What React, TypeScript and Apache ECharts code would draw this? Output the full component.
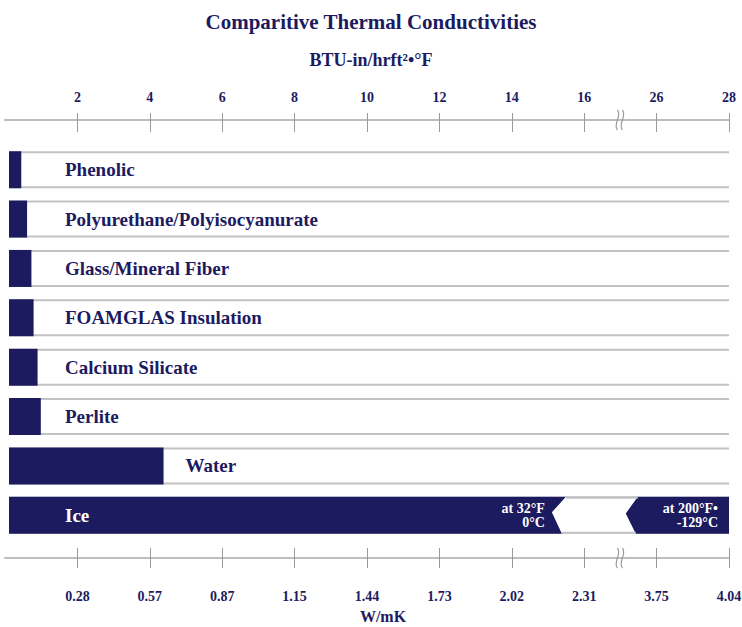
import React, { useEffect, useRef } from "react";
import * as echarts from "echarts";

// ---------- data ----------
const materials = [
  "Phenolic",
  "Polyurethane/Polyisocyanurate",
  "Glass/Mineral Fiber",
  "FOAMGLAS Insulation",
  "Calcium Silicate",
  "Perlite",
  "Water",
  "Ice",
];
// thermal conductivity, BTU-in/hr·ft²·°F
const conductivity = [0.45, 0.61, 0.73, 0.79, 0.9, 0.99, 4.38, 28];
const iceAt32F = 15.3;
const iceNotes = ["at 32°F\n0°C", "at 200°F•\n-129°C"];
const topTickLabels = ["2", "4", "6", "8", "10", "12", "14", "16", "26", "28"];
const bottomTickLabels = ["0.28", "0.57", "0.87", "1.15", "1.44", "1.73", "2.02", "2.31", "3.75", "4.04"];

// axis break: 16 .. 26 collapsed into one step
const BREAK_FROM = 16;
const BREAK_TO = 26;
const STEP = 2;
const toAxis = (v: number) =>
  v <= BREAK_FROM ? v : v >= BREAK_TO ? v - (BREAK_TO - BREAK_FROM - STEP) : BREAK_FROM + STEP / 2;
const tickValues = topTickLabels.map((_, i) => (i + 1) * STEP);
const AXIS_MAX = tickValues[tickValues.length - 1];

// ---------- style ----------
const NAVY = "#1c1b5f";
const ROW_LINE = "#c2c2c2";
const AXIS_LINE = "#bdbdbd";
const TICK = "#9a9a9a";
const FONT = '"Liberation Serif", "DejaVu Serif", serif';
const TOP_OFFSET = 25;
const BOTTOM_OFFSET = 18;

function renderRow(params: any, api: any) {
  const i = api.value(1);
  const v = api.value(0);
  const cs = params.coordSys;
  const [xEnd, yc] = api.coord([v, i]);
  const band = api.size([0, 1])[1];
  const h = band * 0.75;
  const top = yc - h / 2;
  const bot = yc + h / 2;
  const x0 = cs.x + 4;
  const xR = cs.x + cs.width;
  const broken = v > BREAK_FROM;
  const children: any[] = [
    { type: "line", shape: { x1: x0, y1: top + 1, x2: xR, y2: top + 1 }, style: { stroke: ROW_LINE, lineWidth: 2 } },
    { type: "line", shape: { x1: x0, y1: bot - 1, x2: xR, y2: bot - 1 }, style: { stroke: ROW_LINE, lineWidth: 2 } },
    { type: "rect", shape: { x: x0, y: top, width: xEnd - x0, height: h }, style: { fill: NAVY } },
  ];
  const labelX = broken ? x0 + 56 : Math.max(x0 + 56, xEnd + 22);
  children.push({
    type: "text",
    x: labelX,
    y: yc,
    style: {
      text: materials[i],
      fill: broken ? "#ffffff" : NAVY,
      fontFamily: FONT,
      fontWeight: "bold",
      fontSize: 19,
      align: "left",
      verticalAlign: "middle",
    },
  });
  if (broken) {
    const L = api.coord([iceAt32F, i])[0];
    const R = api.coord([BREAK_FROM + STEP * 0.74, i])[0];
    children.push({
      type: "polygon",
      shape: {
        points: [
          [L + 7, top],
          [R, top],
          [R - 12, top + h * 0.45],
          [R - 2, bot],
          [L + 3, bot],
          [L - 7, top + h * 0.42],
        ],
      },
      style: { fill: "#ffffff" },
    });
    children.push({ type: "line", shape: { x1: L + 7, y1: top + 1, x2: R, y2: top + 1 }, style: { stroke: ROW_LINE, lineWidth: 2 } });
    children.push({ type: "line", shape: { x1: L + 3, y1: bot - 1, x2: R - 2, y2: bot - 1 }, style: { stroke: ROW_LINE, lineWidth: 2 } });
    const noteStyle = {
      fill: "#ffffff",
      fontFamily: FONT,
      fontWeight: "bold",
      fontSize: 14,
      lineHeight: 14,
      align: "right",
      verticalAlign: "middle",
    };
    children.push({ type: "text", x: L - 14, y: yc, style: { ...noteStyle, text: iceNotes[0] } });
    children.push({ type: "text", x: xR - 11, y: yc, style: { ...noteStyle, text: iceNotes[1] } });
  }
  return { type: "group", children };
}

function renderBreakMarks(params: any, api: any) {
  const cs = params.coordSys;
  const x = api.coord([api.value(0), 0])[0];
  const marks: any[] = [];
  [cs.y - TOP_OFFSET, cs.y + cs.height + BOTTOM_OFFSET].forEach((y) => {
    [x - 3, x + 2].forEach((mx) => {
      marks.push({
        type: "bezierCurve",
        shape: { x1: mx, y1: y - 10, cpx1: mx + 5, cpy1: y - 4, cpx2: mx - 5, cpy2: y + 4, x2: mx, y2: y + 10 },
        style: { stroke: TICK, lineWidth: 1.2, fill: "none" },
      });
    });
  });
  return { type: "group", children: marks };
}

const baseAxis = {
  type: "value",
  min: 0,
  max: AXIS_MAX,
  interval: STEP,
  splitLine: { show: false },
};

export default function App() {
  const ref = useRef<HTMLDivElement>(null);
  useEffect(() => {
    document.body.style.margin = "0";
    const chart = echarts.init(ref.current!, undefined, { renderer: "svg" });
    const labelStyle = { color: NAVY, fontFamily: FONT, fontWeight: "bold", fontSize: 14 };
    chart.setOption({
      animation: false,
      backgroundColor: "#ffffff",
      title: [
        {
          text: "Comparitive Thermal Conductivities",
          left: "center",
          top: 6,
          textStyle: { color: NAVY, fontFamily: FONT, fontWeight: "bold", fontSize: 21 },
        },
        {
          text: "BTU-in/hrft²•°F",
          left: "center",
          top: 46,
          textStyle: { color: NAVY, fontFamily: FONT, fontWeight: "bold", fontSize: 18 },
        },
      ],
      grid: { left: 5, right: 13, top: 145, bottom: 87, outerBoundsMode: "none", containLabel: false },
      xAxis: [
        {
          ...baseAxis,
          position: "top",
          offset: TOP_OFFSET,
          axisLine: { show: true, lineStyle: { color: AXIS_LINE, width: 2 } },
          axisTick: { show: true, length: 7, customValues: tickValues, lineStyle: { color: TICK } },
          axisLabel: {
            ...labelStyle,
            margin: 16,
            customValues: tickValues,
            formatter: (v: number) => topTickLabels[Math.round(v / STEP) - 1] ?? "",
          },
        },
        {
          ...baseAxis,
          position: "top",
          offset: TOP_OFFSET,
          axisLine: { show: false },
          axisTick: { show: true, inside: true, length: 12, customValues: tickValues, lineStyle: { color: TICK } },
          axisLabel: { show: false },
        },
        {
          ...baseAxis,
          position: "bottom",
          offset: BOTTOM_OFFSET,
          axisLine: { show: true, lineStyle: { color: AXIS_LINE, width: 2 } },
          axisTick: { show: true, length: 10, customValues: tickValues, lineStyle: { color: TICK } },
          axisLabel: {
            ...labelStyle,
            margin: 31,
            customValues: tickValues,
            formatter: (v: number) => bottomTickLabels[Math.round(v / STEP) - 1] ?? "",
          },
          name: "W/mK",
          nameLocation: "middle",
          nameGap: 50,
          nameTextStyle: { color: NAVY, fontFamily: FONT, fontWeight: "bold", fontSize: 16, padding: [0, 0, 0, 32] },
        },
        {
          ...baseAxis,
          position: "bottom",
          offset: BOTTOM_OFFSET,
          axisLine: { show: false },
          axisTick: { show: true, inside: true, length: 10, customValues: tickValues, lineStyle: { color: TICK } },
          axisLabel: { show: false },
        },
      ],
      yAxis: {
        type: "category",
        data: materials,
        inverse: true,
        show: false,
      },
      series: [
        {
          type: "custom",
          xAxisIndex: 0,
          renderItem: renderRow,
          encode: { x: 0, y: 1 },
          data: conductivity.map((c, i) => [toAxis(c), i]),
          clip: false,
        },
        {
          type: "custom",
          xAxisIndex: 0,
          renderItem: renderBreakMarks,
          encode: { x: 0, y: 1 },
          data: [[toAxis((BREAK_FROM + BREAK_TO) / 2), 0]],
          clip: false,
        },
      ],
    });
    return () => chart.dispose();
  }, []);
  return <div ref={ref} style={{ width: 742, height: 627 }} />;
}
